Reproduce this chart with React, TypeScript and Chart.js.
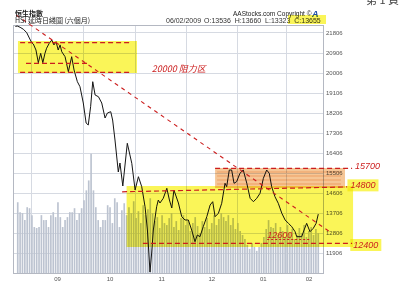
import React, { useEffect, useRef } from 'react';
import { Chart, registerables } from 'chart.js';

Chart.register(...registerables);

// ---- data (trading-day index since 06/08/2008, HSI close) ----
const closeDay = [
  1.0, 1.8, 3.0, 4.4, 5.8, 6.9, 7.9, 8.6, 9.7, 10.7, 11.7, 12.6, 13.5, 14.2, 15.3, 16.4, 17.3, 18.2, 19.1, 19.9,
  20.6, 22.0, 23.4, 24.8, 25.8, 27.2, 28.3, 29.7, 30.9, 31.8, 32.8, 33.7, 34.7, 36.1, 37.5, 38.9, 39.9, 41.3, 42.1, 43.1,
  44.5, 45.2, 46.4, 48.3, 50.2, 51.6, 53.0, 54.4, 55.8, 56.8, 57.9, 58.6, 59.3, 60.7, 61.4, 62.1, 63.5, 65.0, 66.1, 67.1,
  68.0, 69.9, 71.3, 72.7, 74.1, 75.5, 76.9, 77.9, 79.0, 80.4, 81.9, 83.3, 84.4, 85.4, 86.8, 88.2, 89.6, 90.3, 91.4, 92.4,
  93.4, 94.5, 95.9, 97.3, 98.8, 100.2, 101.6, 103.0, 104.4, 105.8, 107.2, 108.3, 109.3, 110.7, 112.1, 113.6, 115.0, 116.4, 117.8, 119.2,
  119.9, 122.0, 123.0, 124.1, 125.5, 126.9, 128.1, 129.0,
];
const closeValue = [
  22100, 22120, 22063, 21973, 21820, 21580, 21370, 21310, 21040, 20470, 20890, 20470, 20890, 21120, 21340, 21490, 21270, 21415, 21040, 21270,
  20965, 20740, 20064, 20740, 20140, 19615, 19390, 18656, 17756, 17666, 18490, 19615, 19016, 18940, 18656, 17981, 18206, 18265, 17891, 16991,
  15551, 15956, 14921, 16843, 15942, 14741, 15340, 14890, 13990, 12941, 11050, 11906, 12941, 13990, 14291, 14156, 14368, 14818, 14291, 13931,
  14741, 14156, 13540, 13391, 13391, 12941, 12415, 12716, 12640, 13090, 13540, 14066, 14215, 13540, 13693, 14143, 15043, 14890, 15641, 15641,
  15043, 15115, 15493, 15641, 15043, 14368, 14215, 14368, 14593, 15268, 15641, 15493, 14890, 14440, 14143, 13693, 13391, 13241, 13090, 12865,
  12640, 12640, 12941, 13241, 12865, 13018, 13241, 13655,
];
const volumeFirstDay = 2;
const volume = [
  71, 61, 60, 53, 66, 65, 58, 46,
  45, 46, 58, 53, 53, 46, 58, 61, 56, 71,
  56, 46, 53, 56, 61, 61, 65, 53, 60, 65,
  73, 83, 93, 120, 83, 66, 53, 46, 53, 53,
  68, 66, 50, 75, 71, 46, 63, 70, 58, 66,
  60, 72, 55, 62, 50, 68, 58, 64, 75, 60,
  52, 56, 45, 58, 50, 48, 55, 60, 46, 52,
  43, 55, 58, 48, 52, 42, 50, 56, 47, 40,
  52, 46, 55, 44, 50, 58, 48, 54, 60, 56,
  52, 58, 48, 55, 44, 50, 42, 38, 34, 28,
  24, 30, 26, 22, 26, 30, 36, 44, 53, 46,
  45, 50, 38, 46, 42, 36, 48, 40, 44, 34,
  38, 45, 40, 48, 36, 42, 46, 38, 44, 40,
];
const monthTicks = [18.8, 41.0, 62.8, 84.0, 105.8, 125.1];
const monthLabels = ['09', '10', '11', '12', '01', '02'];
const priceTicks = [11906, 12806, 13706, 14606, 15506, 16406, 17306, 18206, 19106, 20006, 20906, 21806];
const priceMin = 11006;
const priceMax = 22166;
const dayMax = 131;
const volumeMax = 250;

// ---- hand-drawn annotations (data units: [fromDay, toDay, low, high]) ----
const zoneResistance = [2.1, 52.4, 20006, 21446];
const zoneSupport = [48.0, 143.7, 12176, 14921];
const zoneTop = [85.4, 140.3, 14831, 15731];
const trendLine = [1.3, 22616, 134.0, 12851];
const levelLines = [
  [3.0, 21370, 50.3, 21370],
  [5.5, 20442, 31.3, 20442],
  [3.0, 20037, 50.3, 20037],
  [85.4, 15718, 143.3, 15718],
  [46.1, 14660, 141.2, 14880],
  [54.9, 12342, 143.3, 12342],
];
const noteTexts = ['20000 阻力区', '15700', '14800', '12400', '12600'];
const noteDays = [58.6, 144.5, 142.6, 143.8, 107.4];
const noteValues = [20216, 15800, 14950, 12266, 12693];
const noteMarked = [false, false, true, true, false];

const overlayPlugin = {
  id: 'overlay',
  beforeDraw(chart: any) {
    const { ctx, width, height } = chart;
    ctx.save();
    ctx.fillStyle = '#ffffff';
    ctx.fillRect(0, 0, width, height);
    ctx.restore();
  },
  beforeDatasetsDraw(chart: any) {
    const { ctx, chartArea } = chart;
    ctx.save();
    ctx.strokeStyle = '#b4b8c2';
    ctx.lineWidth = 1;
    ctx.strokeRect(Math.round(chartArea.left) + 0.5, Math.round(chartArea.top) + 0.5,
      Math.round(chartArea.right - chartArea.left), Math.round(chartArea.bottom - chartArea.top));
    ctx.restore();
  },
  afterDatasetsDraw(chart: any) {
    const { ctx, scales } = chart;
    const X = (d: number) => scales.x.getPixelForValue(d);
    const Y = (v: number) => scales.y.getPixelForValue(v);
    ctx.save();
    ctx.globalCompositeOperation = 'multiply';
    const rect = (z: number[], color: string) => {
      const x0 = X(z[0]), x1 = X(z[1]), y0 = Y(z[3]), y1 = Y(z[2]);
      ctx.fillStyle = color;
      ctx.fillRect(x0, y0, x1 - x0, y1 - y0);
      return [x0, y0, x1, y1];
    };
    rect(zoneResistance, 'rgb(250,245,88)');
    rect(zoneSupport, 'rgb(250,245,88)');
    const [ox0, oy0, ox1, oy1] = rect(zoneTop, 'rgb(246,198,150)');
    ctx.strokeStyle = 'rgb(250,222,196)';
    ctx.lineWidth = 1.5;
    for (let k = 1; k < 5; k++) {
      const yy = oy0 + ((oy1 - oy0) * k) / 5;
      ctx.beginPath();
      ctx.moveTo(ox0 + 2, yy);
      ctx.lineTo(ox1 - 4, yy);
      ctx.stroke();
    }
    // yellow behind marked notes
    ctx.fillStyle = 'rgb(250,245,88)';
    noteTexts.forEach((t, i) => {
      if (!noteMarked[i]) return;
      ctx.font = 'italic 9px "Liberation Sans"';
      const w = ctx.measureText(t).width;
      ctx.fillRect(X(noteDays[i]) - 3, Y(noteValues[i]) - 6, w + 6, 12);
    });
    ctx.globalCompositeOperation = 'source-over';

    ctx.strokeStyle = '#cc1e1e';
    ctx.lineWidth = 1.2;
    ctx.setLineDash([5, 3]);
    for (const l of levelLines) {
      ctx.beginPath();
      ctx.moveTo(X(l[0]), Y(l[1]));
      ctx.lineTo(X(l[2]), Y(l[3]));
      ctx.stroke();
    }
    ctx.setLineDash([4, 4]);
    ctx.lineWidth = 1.1;
    ctx.beginPath();
    ctx.moveTo(X(trendLine[0]), Y(trendLine[1]));
    ctx.lineTo(X(trendLine[2]), Y(trendLine[3]));
    ctx.stroke();
    ctx.setLineDash([]);

    ctx.fillStyle = '#cc1e1e';
    ctx.textBaseline = 'middle';
    ctx.textAlign = 'left';
    noteTexts.forEach((t, i) => {
      ctx.font = i === 0 ? 'italic 9px "Noto Sans CJK SC"' : 'italic 9px "Liberation Sans"';
      ctx.fillText(t, X(noteDays[i]), Y(noteValues[i]));
    });
    // dotted trail after 12600
    ctx.strokeStyle = '#cc1e1e';
    ctx.lineWidth = 1;
    ctx.setLineDash([2, 2]);
    ctx.beginPath();
    ctx.moveTo(X(noteDays[4]), Y(noteValues[4]) + 4);
    ctx.lineTo(X(noteDays[4]) + 42, Y(noteValues[4]) + 4);
    ctx.stroke();
    ctx.restore();
  },
  afterDraw(chart: any) {
    const { ctx } = chart;
    ctx.save();
    ctx.textBaseline = 'alphabetic';
    ctx.textAlign = 'left';
    ctx.fillStyle = '#222';
    ctx.font = 'bold 7px "Noto Sans CJK TC"';
    ctx.fillText('恒生指數', 15, 15.5);
    ctx.font = '7px "Noto Sans CJK TC"';
    ctx.fillText('HSI 延時日綫圖 (六個月)', 15, 23);
    ctx.font = '7px "Liberation Sans"';
    ctx.fillStyle = '#333';
    ctx.fillText('06/02/2009', 166, 23);
    ctx.fillText('O:13536  H:13660  L:13323  C:13655', 204, 23);
    ctx.font = '6.5px "Liberation Sans"';
    ctx.fillStyle = '#222';
    ctx.fillText('AAStocks.com Copyright ©', 233, 15.5);
    ctx.font = 'bold italic 9px "Liberation Sans"';
    ctx.fillStyle = '#1f4fa8';
    ctx.fillText('A', 312, 17);
    ctx.font = '11px "Noto Sans CJK TC"';
    ctx.fillStyle = '#444';
    ctx.fillText('第 1 頁', 366, 4);
    ctx.globalCompositeOperation = 'multiply';
    ctx.fillStyle = 'rgb(250,245,88)';
    ctx.fillRect(288, 15, 38, 9);
    ctx.restore();
  },
};

export default function App() {
  const ref = useRef<HTMLCanvasElement>(null);
  useEffect(() => {
    document.body.style.margin = '0';
    const canvas = ref.current!;
    const chart = new Chart(canvas, {
      type: 'bar',
      data: {
        datasets: [
          {
            type: 'line',
            label: 'HSI',
            data: closeDay.map((d, i) => ({ x: d, y: closeValue[i] })),
            borderColor: '#151515',
            borderWidth: 1,
            pointRadius: 0,
            tension: 0,
            yAxisID: 'y',
            order: 0,
          } as any,
          {
            type: 'bar',
            label: 'Volume',
            data: volume.map((v, i) => ({ x: i + volumeFirstDay, y: v })),
            backgroundColor: '#bcc3d0',
            barThickness: 1,
            yAxisID: 'yv',
            order: 1,
          } as any,
        ],
      },
      options: {
        animation: false,
        responsive: false,
        maintainAspectRatio: false,
        layout: { padding: { left: 13, top: 25, right: 0, bottom: 0 } },
        plugins: { legend: { display: false }, tooltip: { enabled: false } },
        scales: {
          x: {
            type: 'linear',
            min: 0,
            max: dayMax,
            offset: false,
            grid: { color: '#d6dae2', drawTicks: false },
            border: { display: false },
            afterBuildTicks: (axis: any) => {
              axis.ticks = monthTicks.map((v) => ({ value: v }));
            },
            afterFit: (scale: any) => {
              scale.height = 22;
            },
            ticks: {
              autoSkip: false,
              maxRotation: 0,
              padding: 3,
              color: '#555',
              font: { size: 6, family: 'Liberation Sans' },
              callback: (v: any) => monthLabels[monthTicks.indexOf(Number(v))] ?? '',
            },
          },
          y: {
            type: 'linear',
            position: 'right',
            min: priceMin,
            max: priceMax,
            grid: { color: '#d6dae2', drawTicks: false },
            border: { display: false },
            afterBuildTicks: (axis: any) => {
              axis.ticks = priceTicks.map((v) => ({ value: v }));
            },
            afterFit: (scale: any) => {
              scale.width = 77;
            },
            ticks: {
              padding: 3,
              color: '#555',
              font: { size: 6, family: 'Liberation Sans' },
              callback: (v: any) => String(v),
            },
          },
          yv: {
            type: 'linear',
            display: false,
            min: 0,
            max: volumeMax,
          },
        },
      },
      plugins: [overlayPlugin],
    } as any);
    return () => chart.destroy();
  }, []);
  return <canvas ref={ref} width={400} height={295} style={{ display: 'block', width: 400, height: 295 }} />;
}
